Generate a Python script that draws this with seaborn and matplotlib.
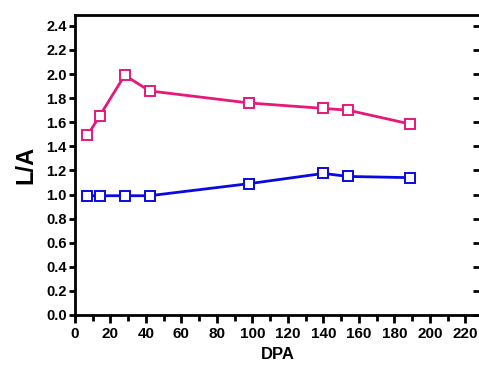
import matplotlib
matplotlib.use("Agg")
import matplotlib.pyplot as plt
import pandas as pd
import seaborn as sns
from matplotlib.ticker import MultipleLocator

# Data
dpa = [7, 14, 28, 42, 98, 140, 154, 189]
la_pink = [1.49, 1.655, 1.99, 1.86, 1.76, 1.715, 1.70, 1.585]
la_blue = [0.99, 0.99, 0.99, 0.99, 1.09, 1.175, 1.15, 1.14]

pink = "#e6187a"
blue = "#0a0ae0"

df = pd.DataFrame({"DPA": dpa, "pink": la_pink, "blue": la_blue})

sns.set_style("white")
plt.rcParams["font.family"] = ["Liberation Sans", "DejaVu Sans"]
plt.rcParams["font.weight"] = "bold"
plt.rcParams["text.color"] = "black"
plt.rcParams["axes.labelcolor"] = "black"
plt.rcParams["xtick.color"] = "black"
plt.rcParams["ytick.color"] = "black"

fig = plt.figure(figsize=(4.79, 3.67), dpi=100)
ax = fig.add_axes([0.1566, 0.1417, 0.848, 0.8174])

for col, c in [("pink", pink), ("blue", blue)]:
    sns.lineplot(data=df, x="DPA", y=col, ax=ax, color=c, linewidth=2,
                 marker="s", markersize=7.5, markerfacecolor="white",
                 markeredgecolor=c, markeredgewidth=1.4)

ax.set_xlim(0, 229)
ax.set_ylim(0, 2.49)
ax.xaxis.set_minor_locator(MultipleLocator(10))
ax.set_xticks(range(0, 221, 20))
ax.set_yticks([i / 10 for i in range(0, 25, 2)])
ax.set_yticklabels([f"{i / 10:.1f}" for i in range(0, 25, 2)])

ax.spines["right"].set_visible(False)
for s in ["left", "bottom", "top"]:
    ax.spines[s].set_linewidth(2)
    ax.spines[s].set_color("black")

ax.tick_params(axis="x", which="major", direction="out", length=6, width=2,
               labelsize=11, bottom=True, top=False, pad=3)
ax.tick_params(axis="x", which="minor", direction="out", length=4, width=2,
               bottom=True, top=False)
ax.tick_params(axis="y", which="major", direction="out", length=4, width=2,
               labelsize=10.5, left=True, right=False, pad=2)
ax.tick_params(axis="y", which="minor", left=False, right=False)

# right-side ticks drawn inward at the (invisible) right edge
ax2 = ax.twinx()
ax2.set_ylim(ax.get_ylim())
ax2.set_yticks([i / 10 for i in range(0, 25, 2)])
ax2.tick_params(axis="y", direction="in", length=6, width=2, labelright=False)
for s in ax2.spines.values():
    s.set_visible(False)

for lab in ax.get_xticklabels() + ax.get_yticklabels():
    lab.set_fontweight("bold")

ax.set_xlabel("DPA", fontsize=12, fontweight="bold", labelpad=4)
ax.set_ylabel("L/A", fontsize=17, fontweight="bold", labelpad=6)

fig.savefig("out.png", dpi=100)
